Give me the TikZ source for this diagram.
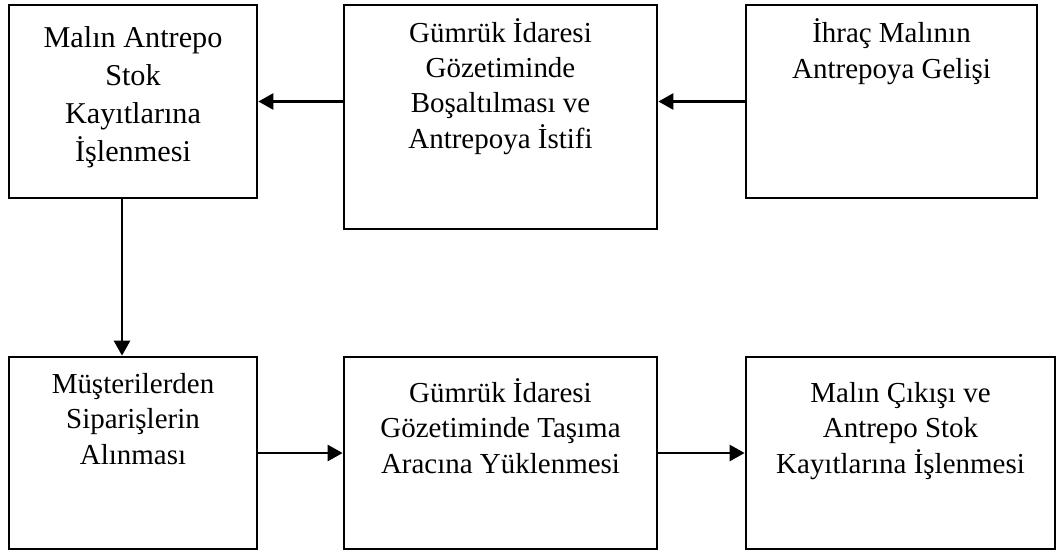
\documentclass[tikz,border=0pt]{standalone}
\usepackage{fontspec}
\setmainfont{Liberation Serif}
\usepackage{tikz}
\usetikzlibrary{arrows.meta}
\usetikzlibrary{positioning}
\tikzset{
    box/.style={
        draw,
        rectangle,
        line width=1.9pt,
        fill=white,
        minimum height=4.8cm
    },
    boxtext/.style={
        anchor=base,
        align=center,
        inner sep=0pt,
        font=\fontsize{20.6pt}{24.9pt}\selectfont
    },
    flow/.style={
        draw,
        line width=1.9pt,
        -{Triangle[length=0.375cm, width=0.4cm]}
    }
}

\begin{document}
\begin{tikzpicture}[x=0.025cm, y=-0.025cm]
    \useasboundingbox (0,0) rectangle (1057,554);

    % Top row
    \node[box, minimum width=6.2cm, minimum height=4.825cm] (stokkayit) at (133,101.5) {};
    \node[box, minimum width=7.825cm, minimum height=5.6cm] (bosaltma) at (500.5,117) {};
    \node[box, minimum width=7.275cm, minimum height=4.825cm] (giris) at (891.5,101.5) {};

    % texts sit on the baseline of their last line
    \node[boxtext, font=\fontsize{21.5pt}{27pt}\selectfont] (stokkayittxt) at (133,161) {Malın Antrepo\\Stok\\Kayıtlarına\\İşlenmesi};
    \node[boxtext] (bosaltmatxt) at (500.5,148) {Gümrük İdaresi\\Gözetiminde\\Boşaltılması ve\\Antrepoya İstifi};
    \node[boxtext] (giristxt) at (891.5,78) {İhraç Malının\\Antrepoya Gelişi};

    % Bottom row
    \node[box, minimum width=6.2cm] (siparis) at (133,453) {};
    \node[box, minimum width=7.825cm] (yukleme) at (500.5,453) {};
    \node[box, minimum width=7.725cm] (cikis) at (900.5,453) {};

    \node[boxtext] (siparistxt) at (133,464) {Müşterilerden\\Siparişlerin\\Alınması};
    \node[boxtext] (yuklemetxt) at (500.5,473) {Gümrük İdaresi\\Gözetiminde Taşıma\\Aracına Yüklenmesi};
    \node[boxtext] (cikistxt) at (900.5,473) {Malın Çıkışı ve\\Antrepo Stok\\Kayıtlarına İşlenmesi};

    % Arrows
    \draw[flow] (giris.west) -- (giris.west -| bosaltma.east);
    \draw[flow] (stokkayit.east -| bosaltma.west) -- (stokkayit.east);
    \draw[flow] ([xshift=-0.275cm]stokkayit.south) -- ([xshift=-0.275cm]siparis.north);
    \draw[flow] (siparis) -- (yukleme);
    \draw[flow] (yukleme) -- (cikis);
\end{tikzpicture}
\end{document}
